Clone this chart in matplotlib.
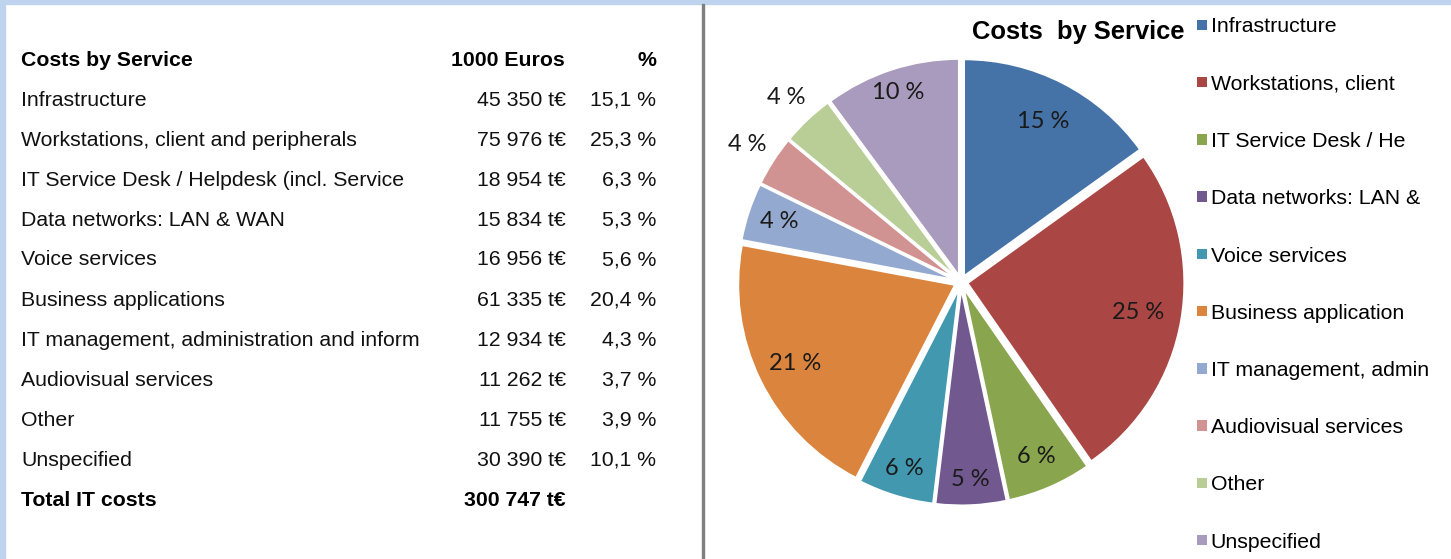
import matplotlib
matplotlib.use("Agg")
import matplotlib.pyplot as plt
from matplotlib.patches import Rectangle
import numpy as np

# table / chart data
services = ['Infrastructure',
            'Workstations, client and peripherals',
            'IT Service Desk / Helpdesk (incl. Service',
            'Data networks: LAN & WAN',
            'Voice services',
            'Business applications',
            'IT management, administration and inform',
            'Audiovisual services',
            'Other',
            'Unspecified']
costs = [45350, 75976, 18954, 15834, 16956, 61335, 12934, 11262, 11755, 30390]
cost_text = ['45 350 t€', '75 976 t€', '18 954 t€', '15 834 t€', '16 956 t€',
             '61 335 t€', '12 934 t€', '11 262 t€', '11 755 t€', '30 390 t€']
pct_text = ['15,1 %', '25,3 %', '6,3 %', '5,3 %', '5,6 %',
            '20,4 %', '4,3 %', '3,7 %', '3,9 %', '10,1 %']
total_text = '300 747 t€'
pie_labels = ['15 %', '25 %', '6 %', '5 %', '6 %', '21 %', '4 %', '4 %', '4 %', '10 %']
legend_labels = ['Infrastructure', 'Workstations, client', 'IT Service Desk / He',
                 'Data networks: LAN &', 'Voice services', 'Business application',
                 'IT management, admin', 'Audiovisual services', 'Other', 'Unspecified']
colors = ['#4572A7', '#AA4643', '#89A54E', '#71588F', '#4198AF',
          '#DB843D', '#93A9CF', '#D19392', '#B9CD96', '#A99BBD']

W, H = 1451, 559
fig = plt.figure(figsize=(W / 100, H / 100), dpi=100)
fig.patch.set_facecolor('white')

def fx(px):
    return px / W

def fy(py):
    return 1 - py / H

# blue frame + divider
band = '#BDD3EE'
fig.patches.append(Rectangle((0, fy(4)), 1, 4 / H, transform=fig.transFigure, color=band, zorder=0))
fig.patches.append(Rectangle((0, 0), 5 / W, 1, transform=fig.transFigure, color=band, zorder=0))
fig.patches.append(Rectangle((fx(702), 0), 1.5 / W, fy(4), transform=fig.transFigure, color='#808080', zorder=0))

# ---- table on the left ----
tfont = 'Liberation Sans'
fs = 15.3
row0, pitch = 60, 40
fig.text(fx(21), fy(row0), 'Costs by Service', fontfamily=tfont, fontsize=fs, fontweight='bold', va='center', ha='left')
fig.text(fx(565), fy(row0), '1000 Euros', fontfamily=tfont, fontsize=fs, fontweight='bold', va='center', ha='right')
fig.text(fx(656), fy(row0), '%', fontfamily=tfont, fontsize=fs, fontweight='bold', va='center', ha='right')
for i, name in enumerate(services):
    y = fy(row0 + pitch * (i + 1))
    fig.text(fx(21), y, name, fontfamily=tfont, fontsize=fs, va='center', ha='left', color='#111111')
    fig.text(fx(566), y, cost_text[i], fontfamily=tfont, fontsize=fs, va='center', ha='right', color='#111111')
    fig.text(fx(656), y, pct_text[i], fontfamily=tfont, fontsize=fs, va='center', ha='right', color='#111111')
ytot = fy(row0 + pitch * (len(services) + 1))
fig.text(fx(21), ytot, 'Total IT costs', fontfamily=tfont, fontsize=fs, fontweight='bold', va='center', ha='left')
fig.text(fx(566), ytot, total_text, fontfamily=tfont, fontsize=fs, fontweight='bold', va='center', ha='right')

# ---- pie on the right ----
cx, cy, R, S = 961, 282, 217, 250
ax = fig.add_axes([fx(cx - S), fy(cy + S), 2 * S / W, 2 * S / H])
wedges, _ = ax.pie(costs, colors=colors, startangle=90, counterclock=False,
                   explode=[0.03] * len(costs),
                   wedgeprops=dict(edgecolor='white', linewidth=1.5))
ax.set_xlim(-S / R, S / R)
ax.set_ylim(-S / R, S / R)
ax.set_aspect('equal')
ax.axis('off')

label_r = [0.83, 0.83, 0.875, 0.91, 0.9, 0.85, 0.88, 1.17, 1.17, 0.92]
for w, lab, r in zip(wedges, pie_labels, label_r):
    ang = np.deg2rad((w.theta1 + w.theta2) / 2)
    ax.text(r * np.cos(ang), r * np.sin(ang), lab, ha='center', va='center',
            fontfamily='Lato', fontsize=17, color='#1a1a1a')

fig.text(fx(972), fy(32), 'Costs  by Service', fontfamily=tfont, fontsize=18.4,
         fontweight='bold', ha='left', va='center')

leg = fig.legend(wedges, legend_labels, loc='upper left',
                 bbox_to_anchor=(fx(1197), fy(17.5)), frameon=False,
                 prop=dict(family=tfont, size=15.3), handlelength=0.45,
                 handleheight=0.38, handletextpad=0.2, labelspacing=1.80,
                 borderpad=0, borderaxespad=0)
for h in leg.legend_handles:
    h.set_edgecolor('none')

fig.savefig('out.png', dpi=100, facecolor=fig.get_facecolor())
